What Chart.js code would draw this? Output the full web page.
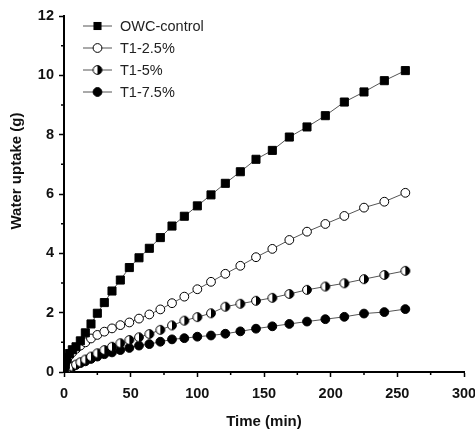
<!DOCTYPE html>
<html>
<head>
<meta charset="utf-8">
<script src="https://cdn.jsdelivr.net/npm/chart.js@4.4.0/dist/chart.umd.min.js"></script>
<style>
  html, body { margin: 0; padding: 0; background: #fff; }
</style>
</head>
<body>
<canvas id="uptake" width="475" height="432"></canvas>
<script>
/*******************
 * DATA
 ******************/
const timeMin = [0.25, 1, 2.25, 4, 6.25, 9, 12.25, 16, 20.25, 25, 30.25, 36, 42.25, 49, 56.25, 64,
                 72.25, 81, 90.25, 100, 110.25, 121, 132.25, 144, 156.25, 169, 182.25, 196, 210.25, 225, 240.25, 256];

const owcControl = [0.10, 0.25, 0.45, 0.62, 0.75, 0.85, 1.05, 1.32, 1.62, 1.98, 2.34, 2.73, 3.10, 3.52, 3.85, 4.17,
                    4.53, 4.92, 5.25, 5.60, 5.97, 6.36, 6.75, 7.17, 7.47, 7.92, 8.26, 8.64, 9.10, 9.44, 9.82, 10.16];
const t1_25 = [0.15, 0.30, 0.42, 0.55, 0.66, 0.78, 0.89, 1.00, 1.13, 1.25, 1.36, 1.47, 1.58, 1.67, 1.80, 1.94,
               2.11, 2.32, 2.54, 2.79, 3.04, 3.31, 3.58, 3.87, 4.15, 4.45, 4.73, 4.99, 5.26, 5.54, 5.74, 6.04];
const t1_5 = [0.02, 0.05, 0.08, 0.12, 0.18, 0.25, 0.33, 0.42, 0.52, 0.63, 0.74, 0.85, 0.97, 1.08, 1.17, 1.28,
              1.42, 1.57, 1.73, 1.85, 1.98, 2.20, 2.30, 2.40, 2.50, 2.63, 2.77, 2.88, 2.99, 3.13, 3.27, 3.41];
const t1_75 = [0.02, 0.05, 0.08, 0.13, 0.18, 0.24, 0.30, 0.36, 0.44, 0.52, 0.60, 0.66, 0.74, 0.81, 0.89, 0.94,
               1.02, 1.10, 1.14, 1.19, 1.23, 1.29, 1.37, 1.46, 1.54, 1.62, 1.70, 1.78, 1.86, 1.97, 2.02, 2.12];

const seriesLabels = ['OWC-control', 'T1-2.5%', 'T1-5%', 'T1-7.5%'];

const xTicks = [0, 50, 100, 150, 200, 250, 300];
const xMinor = [25, 75, 125, 175, 225, 275];
const yTicks = [0, 2, 4, 6, 8, 10, 12];
const yMinor = [1, 3, 5, 7, 9, 11];

const FONT = '"Liberation Sans", Arial, sans-serif';

/*******************
 * HALF FILLED MARKER
 ******************/
function halfDot(r) {
    const c = document.createElement('canvas');
    const s = Math.ceil(r * 2 + 3);
    c.width = s;
    c.height = s;
    const g = c.getContext('2d');
    const m = s / 2;
    g.fillStyle = '#fff';
    g.beginPath(); g.arc(m, m, r, 0, Math.PI * 2); g.fill();
    g.fillStyle = '#000';
    g.beginPath(); g.arc(m, m, r, -Math.PI / 2, Math.PI / 2); g.fill();
    g.strokeStyle = '#000';
    g.lineWidth = 1;
    g.beginPath(); g.arc(m, m, r, 0, Math.PI * 2); g.stroke();
    return c;
}
const halfMarker = halfDot(4.4);

function toPoints(ys) {
    return timeMin.map((t, i) => ({ x: t, y: ys[i] }));
}

function makeSet(label, ys, style, fill, radius) {
    return {
        label: label,
        data: toPoints(ys),
        borderColor: '#555',
        borderWidth: 1,
        pointStyle: style,
        pointRadius: radius,
        pointBackgroundColor: fill,
        pointBorderColor: '#000',
        pointBorderWidth: 1,
        tension: 0,
    };
}

/*******************
 * PLUGINS - MINOR TICKS, Y TITLE, INSET LEGEND
 ******************/
const minorTicks = {
    id: 'minorTicks',
    afterDraw(chart) {
        const ctx = chart.ctx;
        const xs = chart.scales.x, ys = chart.scales.y;
        ctx.save();
        ctx.strokeStyle = '#000';
        ctx.lineWidth = 1.5;
        ctx.beginPath();
        for (const v of xMinor) {
            const px = xs.getPixelForValue(v);
            ctx.moveTo(px, xs.top);
            ctx.lineTo(px, xs.top + 3);
        }
        for (const v of yMinor) {
            const py = ys.getPixelForValue(v);
            ctx.moveTo(ys.right, py);
            ctx.lineTo(ys.right - 3, py);
        }
        ctx.stroke();
        ctx.restore();
    }
};

const yTitle = {
    id: 'yTitle',
    afterDraw(chart) {
        const ctx = chart.ctx;
        ctx.save();
        ctx.translate(17, 171);
        ctx.rotate(-Math.PI / 2);
        ctx.font = 'bold 15px ' + FONT;
        ctx.fillStyle = '#111';
        ctx.textAlign = 'center';
        ctx.textBaseline = 'middle';
        ctx.fillText('Water uptake (g)', 0, 0);
        ctx.restore();
    }
};

const insetLegend = {
    id: 'insetLegend',
    afterDraw(chart) {
        const ctx = chart.ctx;
        chart.data.datasets.forEach((ds, i) => {
            const y = 26 + i * 22;
            ctx.save();
            ctx.strokeStyle = ds.borderColor;
            ctx.lineWidth = 1;
            ctx.beginPath();
            ctx.moveTo(83, y);
            ctx.lineTo(112, y);
            ctx.stroke();

            ctx.fillStyle = ds.pointBackgroundColor;
            ctx.strokeStyle = '#000';
            if (ds.pointStyle === 'rect') {
                const h = ds.pointRadius * Math.SQRT1_2;
                ctx.fillRect(97.5 - h, y - h, h * 2, h * 2);
            } else if (ds.pointStyle === 'circle') {
                ctx.beginPath();
                ctx.arc(97.5, y, ds.pointRadius, 0, Math.PI * 2);
                ctx.fill();
                ctx.stroke();
            } else {
                ctx.drawImage(ds.pointStyle, 97.5 - ds.pointStyle.width / 2, y - ds.pointStyle.height / 2);
            }

            ctx.font = '14.5px ' + FONT;
            ctx.fillStyle = '#222';
            ctx.textAlign = 'left';
            ctx.textBaseline = 'middle';
            ctx.fillText(ds.label, 120, y + 1);
            ctx.restore();
        });
    }
};

/*******************
 * CHART
 ******************/
const tickFont = { family: FONT, size: 14.5, weight: 'bold' };

new Chart(document.getElementById('uptake'), {
    type: 'line',
    data: {
        datasets: [
            makeSet(seriesLabels[0], owcControl, 'rect', '#000', 5.7),
            makeSet(seriesLabels[1], t1_25, 'circle', '#fff', 4.4),
            makeSet(seriesLabels[2], t1_5, halfMarker, '#fff', 4.4),
            makeSet(seriesLabels[3], t1_75, 'circle', '#000', 4.4),
        ]
    },
    options: {
        responsive: false,
        animation: false,
        layout: { padding: { left: 0, right: 11, top: 16, bottom: 0 } },
        plugins: {
            legend: { display: false },
            tooltip: { enabled: false },
        },
        scales: {
            x: {
                type: 'linear',
                min: 0,
                max: 300,
                afterBuildTicks: s => { s.ticks = xTicks.map(v => ({ value: v })); },
                afterFit: s => { s.height = 60; s.paddingLeft = 0; s.paddingRight = 0; },
                grid: { drawOnChartArea: false, drawTicks: true, tickLength: 5, tickColor: '#000', tickWidth: 1.5 },
                border: { color: '#000', width: 2 },
                ticks: { color: '#111', font: tickFont, padding: 8, maxRotation: 0, autoSkip: false },
                title: {
                    display: true,
                    text: 'Time (min)',
                    color: '#111',
                    font: { family: FONT, size: 15, weight: 'bold' },
                    padding: { top: 0, bottom: 1 },
                },
            },
            y: {
                min: 0,
                max: 12,
                afterBuildTicks: s => { s.ticks = yTicks.map(v => ({ value: v })); },
                afterFit: s => { s.width = 64; s.paddingTop = 0; s.paddingBottom = 0; },
                grid: { drawOnChartArea: false, drawTicks: true, tickLength: 5, tickColor: '#000', tickWidth: 1.5 },
                border: { color: '#000', width: 2 },
                ticks: { color: '#111', font: tickFont, padding: 5 },
            },
        },
    },
    plugins: [minorTicks, yTitle, insetLegend],
});
</script>
</body>
</html>
